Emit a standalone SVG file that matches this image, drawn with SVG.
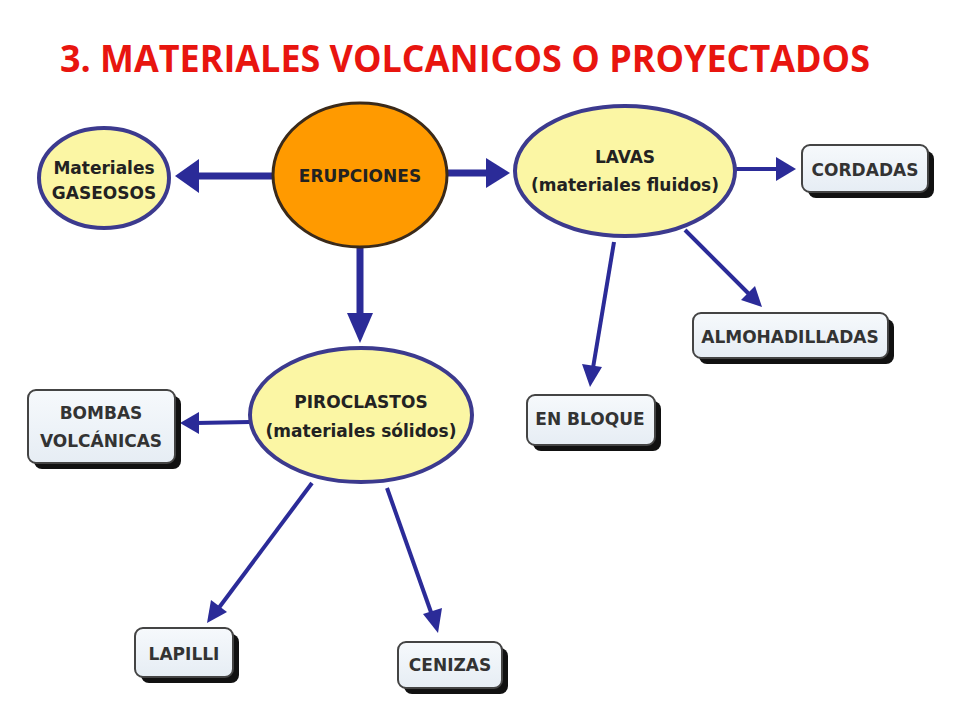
<svg xmlns="http://www.w3.org/2000/svg" width="960" height="720" viewBox="0 0 960 720">
<style>
.title{font-family:"Open Sans","Liberation Sans",sans-serif;font-weight:bold;font-size:38px;fill:#e8150f}
.lbl{font-family:"DejaVu Sans","Liberation Sans",sans-serif;font-weight:bold;font-size:17px;fill:#222;text-anchor:middle}
.blbl{font-family:"DejaVu Sans","Liberation Sans",sans-serif;font-weight:bold;font-size:17px;fill:#333;text-anchor:middle}
.yel{fill:#fbf6a4;stroke:#3c3a8e;stroke-width:4}
.org{fill:#ff9a00;stroke:#3a2a1a;stroke-width:3}
.box{fill:url(#bg);stroke:#444;stroke-width:2}
.shadow{fill:#111}
.con{stroke:#2b2b98;fill:none}
.head{fill:#2b2b98}
</style>
<defs>
<linearGradient id="bg" x1="0" y1="0" x2="0" y2="1">
<stop offset="0" stop-color="#f6f9fc"/>
<stop offset="1" stop-color="#e6edf4"/>
</linearGradient>
</defs>
<rect width="960" height="720" fill="#ffffff"/>
<text class="title" x="60" y="72" textLength="810" lengthAdjust="spacingAndGlyphs">3. MATERIALES VOLCANICOS O PROYECTADOS</text>

<g id="connectors">
<line class="con" x1="272" y1="176" x2="196" y2="176" stroke-width="7"/>
<polygon class="head" points="175,176 199,159 199,193"/>
<line class="con" x1="360" y1="247" x2="360" y2="316" stroke-width="7"/>
<polygon class="head" points="360,343 347,313 373,313"/>
<line class="con" x1="447" y1="173" x2="488" y2="173" stroke-width="7"/>
<polygon class="head" points="510,173 486,158 486,188"/>
<line class="con" x1="735" y1="169" x2="780" y2="169" stroke-width="4"/>
<polygon class="head" points="796,169 776,157 776,181"/>
<line class="con" x1="685" y1="230" x2="750" y2="295" stroke-width="4"/>
<polygon class="head" points="762,307 741,300 755,286"/>
<line class="con" x1="614" y1="242" x2="593" y2="368" stroke-width="4"/>
<polygon class="head" points="590,387 582,364 602,367"/>
<line class="con" x1="250" y1="422" x2="196" y2="423" stroke-width="4"/>
<polygon class="head" points="180,423 199,412 199,434"/>
<line class="con" x1="312" y1="483" x2="218" y2="609" stroke-width="4"/>
<polygon class="head" points="207,623 211,600 227,612"/>
<line class="con" x1="387" y1="488" x2="432" y2="615" stroke-width="4"/>
<polygon class="head" points="438,633 423,614 442,608"/>
</g>

<g id="gaseosos">
<ellipse class="yel" cx="104" cy="178" rx="65" ry="50"/>
<text class="lbl" x="104" y="174" font-size="15.5">Materiales</text>
<text class="lbl" x="104" y="199" font-size="15.5">GASEOSOS</text>
</g>

<g id="erupciones">
<ellipse class="org" cx="360" cy="175" rx="87" ry="72"/>
<text class="lbl" x="360" y="182" font-size="18">ERUPCIONES</text>
</g>

<g id="lavas">
<ellipse class="yel" cx="625" cy="171" rx="110" ry="65"/>
<text class="lbl" x="625" y="163">LAVAS</text>
<text class="lbl" x="625" y="191">(materiales fluidos)</text>
</g>

<g id="cordadas">
<rect class="shadow" x="808" y="151" width="126" height="47" rx="8"/>
<rect class="box" x="802" y="145" width="126" height="47" rx="8"/>
<text class="blbl" x="865" y="176" font-size="18">CORDADAS</text>
</g>

<g id="almohadilladas">
<rect class="shadow" x="699" y="319" width="195" height="45" rx="8"/>
<rect class="box" x="693" y="313" width="195" height="45" rx="8"/>
<text class="blbl" x="790" y="343" font-size="18">ALMOHADILLADAS</text>
</g>

<g id="enbloque">
<rect class="shadow" x="533" y="401" width="128" height="50" rx="8"/>
<rect class="box" x="527" y="395" width="128" height="50" rx="8"/>
<text class="blbl" x="590" y="425" font-size="18">EN BLOQUE</text>
</g>

<g id="piroclastos">
<ellipse class="yel" cx="361" cy="415" rx="111" ry="67"/>
<text class="lbl" x="361" y="408" font-size="18">PIROCLASTOS</text>
<text class="lbl" x="361" y="437">(materiales sólidos)</text>
</g>

<g id="bombas">
<rect class="shadow" x="34" y="396" width="147" height="73" rx="8"/>
<rect class="box" x="28" y="390" width="147" height="73" rx="8"/>
<text class="blbl" x="101" y="419">BOMBAS</text>
<text class="blbl" x="101" y="447">VOLCÁNICAS</text>
</g>

<g id="lapilli">
<rect class="shadow" x="141" y="634" width="98" height="49" rx="8"/>
<rect class="box" x="135" y="628" width="98" height="49" rx="8"/>
<text class="blbl" x="184" y="660" font-size="17.5">LAPILLI</text>
</g>

<g id="cenizas">
<rect class="shadow" x="404" y="648" width="104" height="46" rx="8"/>
<rect class="box" x="398" y="642" width="104" height="46" rx="8"/>
<text class="blbl" x="450" y="671">CENIZAS</text>
</g>
</svg>
